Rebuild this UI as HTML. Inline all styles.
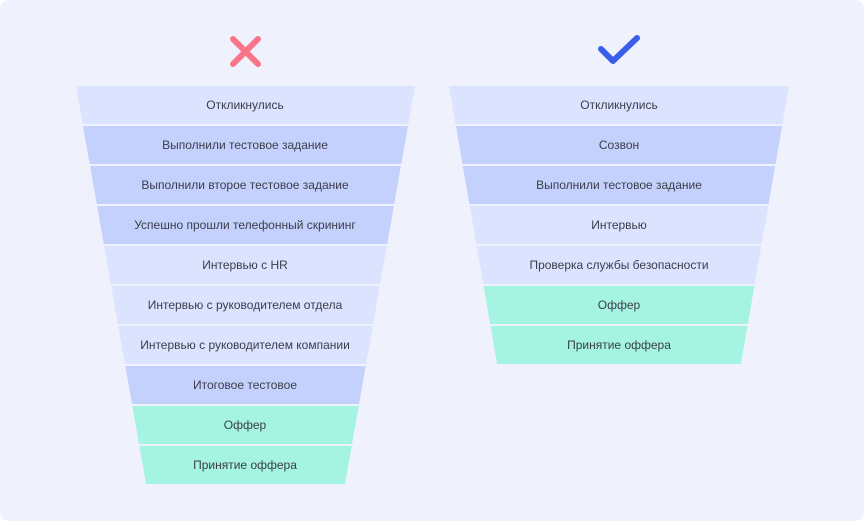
<!DOCTYPE html>
<html><head><meta charset="utf-8"><style>
html,body{margin:0;padding:0;background:#fff;width:864px;height:521px;overflow:hidden}
svg{display:block}
text{font-family:"Liberation Sans",sans-serif;font-size:12px;fill:#3a3d4a;text-anchor:middle}
</style></head><body>
<svg width="864" height="521" viewBox="0 0 864 521">
<rect x="0" y="0" width="864" height="521" rx="9" fill="#eff1fd"/>
<path d="M233,39 L258,64 M258,39 L233,64" stroke="#f87588" stroke-width="6" stroke-linecap="round" fill="none"/>
<path d="M601,49 L613,61 L637,38" stroke="#3b5ee8" stroke-width="6" stroke-linecap="round" stroke-linejoin="round" fill="none"/>
<g>
<polygon points="76,86 415,86 408.3,124 82.7,124" fill="#dce3fe"/>
<polygon points="83,126 408,126 401.3,164 89.7,164" fill="#c5d1fd"/>
<polygon points="90.1,166 400.9,166 394.2,204 96.8,204" fill="#c5d1fd"/>
<polygon points="97.1,206 393.9,206 387.2,244 103.8,244" fill="#c5d1fd"/>
<polygon points="104.2,246 386.8,246 380.2,284 110.8,284" fill="#dce3fe"/>
<polygon points="111.2,286 379.8,286 373.1,324 117.9,324" fill="#dce3fe"/>
<polygon points="118.2,326 372.8,326 366.1,364 124.9,364" fill="#dce3fe"/>
<polygon points="125.3,366 365.7,366 359,404 132,404" fill="#c5d1fd"/>
<polygon points="132.3,406 358.7,406 352,444 139,444" fill="#a5f3e1"/>
<polygon points="139.4,446 351.6,446 345,484 146,484" fill="#a5f3e1"/>
<text x="245" y="109">Откликнулись</text>
<text x="245" y="149">Выполнили тестовое задание</text>
<text x="245" y="189">Выполнили второе тестовое задание</text>
<text x="245" y="229">Успешно прошли телефонный скрининг</text>
<text x="245" y="269">Интервью с HR</text>
<text x="245" y="309">Интервью с руководителем отдела</text>
<text x="245" y="349">Интервью с руководителем компании</text>
<text x="245" y="389">Итоговое тестовое</text>
<text x="245" y="429">Оффер</text>
<text x="245" y="469">Принятие оффера</text>
</g>
<g>
<polygon points="449,86 789,86 782.4,124 455.6,124" fill="#dce3fe"/>
<polygon points="455.9,126 782.1,126 775.5,164 462.5,164" fill="#c5d1fd"/>
<polygon points="462.8,166 775.2,166 768.6,204 469.4,204" fill="#c5d1fd"/>
<polygon points="469.8,206 768.2,206 761.7,244 476.3,244" fill="#dce3fe"/>
<polygon points="476.7,246 761.3,246 754.7,284 483.3,284" fill="#dce3fe"/>
<polygon points="483.6,286 754.4,286 747.8,324 490.2,324" fill="#a5f3e1"/>
<polygon points="490.5,326 747.5,326 740.9,364 497.1,364" fill="#a5f3e1"/>
<text x="619" y="109">Откликнулись</text>
<text x="619" y="149">Созвон</text>
<text x="619" y="189">Выполнили тестовое задание</text>
<text x="619" y="229">Интервью</text>
<text x="619" y="269">Проверка службы безопасности</text>
<text x="619" y="309">Оффер</text>
<text x="619" y="349">Принятие оффера</text>
</g>
</svg>
</body></html>
